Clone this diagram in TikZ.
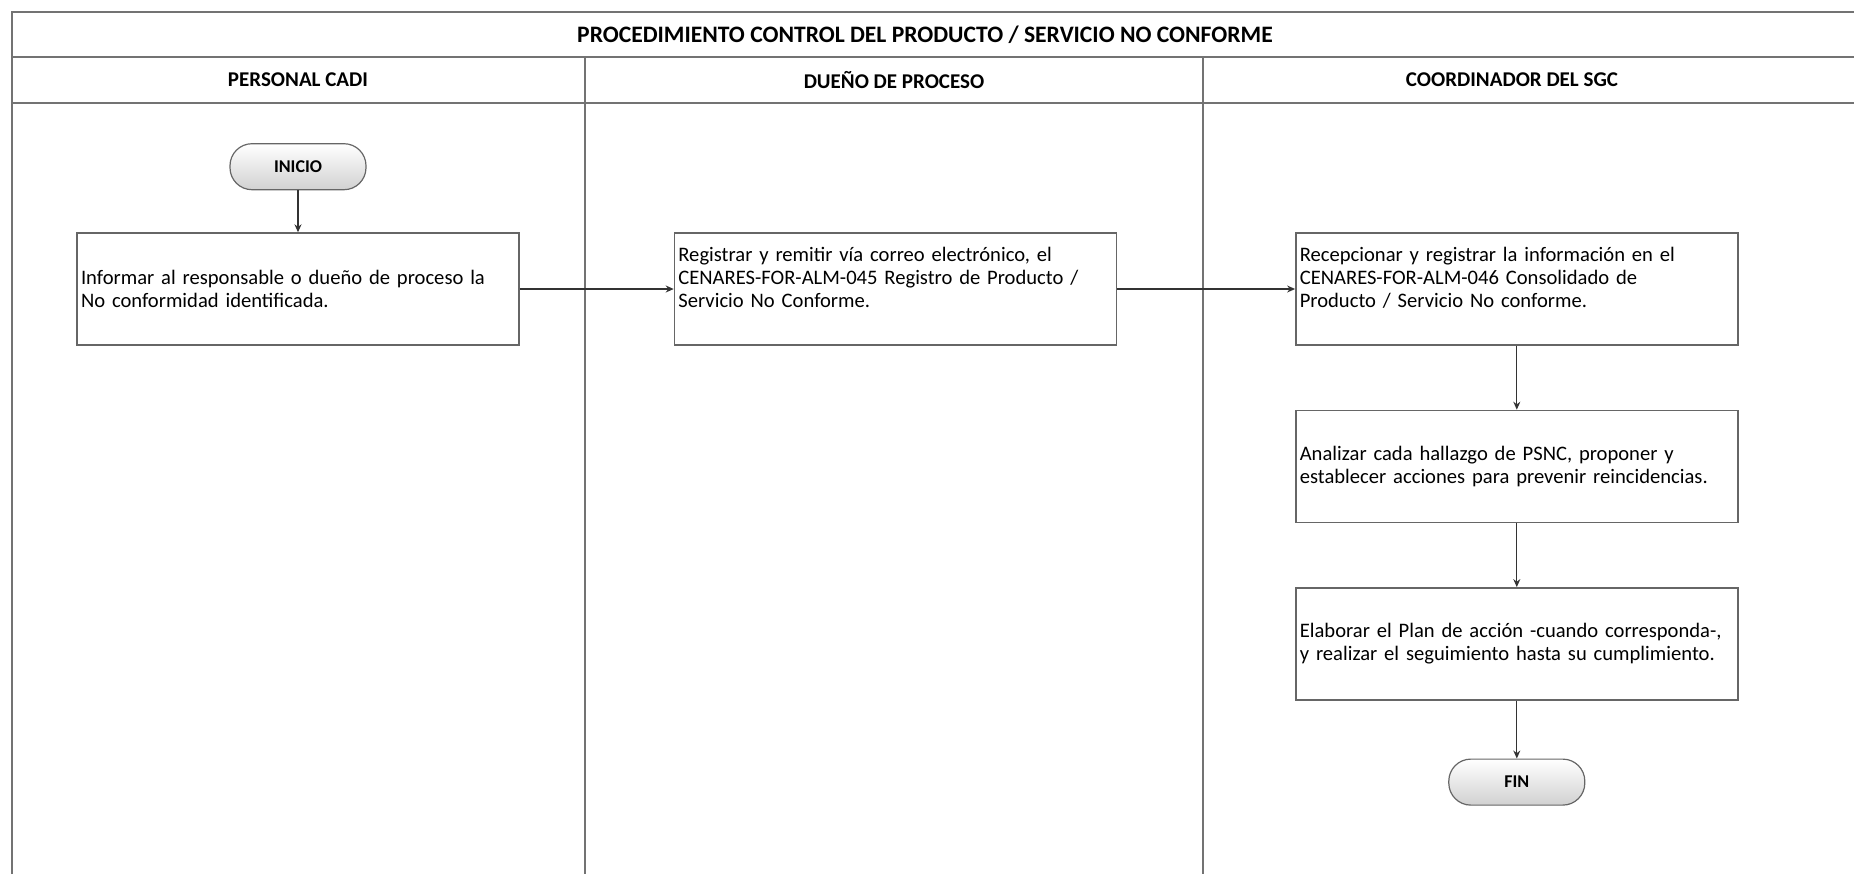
\documentclass[tikz,border=0pt]{standalone}
\usepackage{fontspec}
\setmainfont{Carlito}
\usetikzlibrary{shapes,positioning,arrows.meta}

\begin{document}
\begin{tikzpicture}[x=0.5pt, y=-0.5pt,
        lane/.style={draw=black!55, line width=1pt},
        box/.style={rectangle, draw=black!60, line width=0.7pt, minimum width=221pt, minimum height=56pt, text width=217pt, inner xsep=2pt, align=left, font=\fontsize{10.3}{11.6}\selectfont},
        startend/.style={rectangle, rounded corners=11pt, draw=black!60, line width=0.6pt, minimum width=68pt, minimum height=23pt, font=\bfseries\fontsize{9}{10}\selectfont, top color=white, bottom color=black!18},
        head/.style={font=\bfseries\fontsize{10.5}{12}\selectfont},
        arrow/.style={-{Stealth[length=4pt,width=3.5pt]}, draw=black!80, line width=0.6pt},
      ]
      \useasboundingbox (0,0) rectangle (1854,874);
      % swimlane table
      \draw [lane] (12,874) -- (12,12) -- (1854,12);
      \draw [lane] (12,57) -- (1854,57);
      \draw [lane] (12,103) -- (1854,103);
      \draw [lane] (585,57) -- (585,874);
      \draw [lane] (1203,57) -- (1203,874);
      \node [head, font=\bfseries\fontsize{11.8}{13}\selectfont] (title) at (925,35) {PROCEDIMIENTO CONTROL DEL PRODUCTO / SERVICIO NO CONFORME};
      \node [head] (hcadi) at (298,80) {PERSONAL CADI};
      \node [head] (hdueno) at (894,80) {DUEÑO DE PROCESO};
      \node [head] (hsgc) at (1512,80) {COORDINADOR DEL SGC};
      % steps
      \node [box] (informar) at (298,289) {Informar al responsable o dueño de proceso la\\No conformidad identificada.};
      \node [startend, above=21pt of informar] (inicio) {INICIO};
      \node [box, right=77pt of informar] (registrar) {Registrar y remitir vía correo electrónico, el\\CENARES-FOR-ALM-045 Registro de Producto /\\Servicio No Conforme.\\~};
      \node [box, right=89pt of registrar] (recepcionar) {Recepcionar y registrar la información en el\\CENARES-FOR-ALM-046 Consolidado de\\Producto / Servicio No conforme.\\~};
      \node [box, below=32pt of recepcionar] (analizar) {Analizar cada hallazgo de PSNC, proponer y\\establecer acciones para prevenir reincidencias.};
      \node [box, below=32pt of analizar] (elaborar) {Elaborar el Plan de acción -cuando corresponda-,\\y realizar el seguimiento hasta su cumplimiento.};
      \node [startend, below=29pt of elaborar] (fin) {FIN};
      \draw [arrow] (inicio) -- (informar);
      \draw [arrow] (informar) -- (registrar);
      \draw [arrow] (registrar) -- (recepcionar);
      \draw [arrow] (recepcionar) -- (analizar);
      \draw [arrow] (analizar) -- (elaborar);
      \draw [arrow] (elaborar) -- (fin);
    \end{tikzpicture}
\end{document}
